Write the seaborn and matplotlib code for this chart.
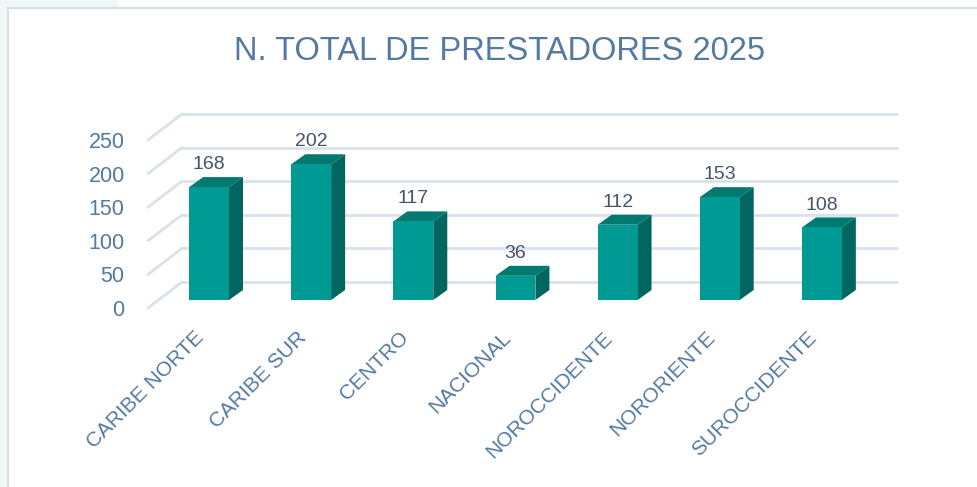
import numpy as np
import pandas as pd
import matplotlib
matplotlib.use('Agg')
import matplotlib.pyplot as plt
import matplotlib.transforms as mtransforms
from matplotlib.patches import Polygon, Rectangle
import seaborn as sns

# data
regiones = ['CARIBE NORTE', 'CARIBE SUR', 'CENTRO', 'NACIONAL',
            'NOROCCIDENTE', 'NORORIENTE', 'SUROCCIDENTE']
prestadores = [168, 202, 117, 36, 112, 153, 108]
y_ticks = [0, 50, 100, 150, 200, 250]

df = pd.DataFrame({'Region': regiones, 'Prestadores': prestadores})

sns.set_style('white')
plt.rcParams['font.family'] = ['Liberation Sans', 'DejaVu Sans']

# colours
c_front = '#009A94'
c_side = '#00665F'
c_top = '#007971'
c_grid = '#D9E1EA'
c_title = '#5479A2'
c_tick = '#5479A2'
c_label = '#44546A'

W, H = 978, 487
fig = plt.figure(figsize=(W / 100, H / 100), dpi=100)
fig.patch.set_facecolor('white')

# light slide background at the top-left corner + chart frame
fig.add_artist(Rectangle((0, 0), 8 / W, 1, transform=fig.transFigure,
                         fc='#EEF8F6', ec='none', zorder=-3))
fig.add_artist(Rectangle((0, 1 - 8 / H), 118 / W, 8 / H, transform=fig.transFigure,
                         fc='#EEF8F6', ec='none', zorder=-3))
fig.add_artist(Rectangle((8 / W, -0.01), 1, 1 - 8 / H + 0.01,
                         transform=fig.transFigure, fc='white',
                         ec='#D6DFE9', lw=1.5, zorder=-2))

# axes = front plane of the bars (pixel layout)
left, right, top, bottom = 158, 873, 132, 300
ax = fig.add_axes([left / W, 1 - bottom / H, (right - left) / W, (bottom - top) / H])
ax.patch.set_alpha(0)
ax.set_xlim(-0.5, len(regiones) - 0.5)
ax.set_ylim(0, 250)

# pixel -> data units for the fake depth
px_x = (len(regiones)) / (right - left)
px_y = 250 / (bottom - top)

# back wall gridlines and side wall diagonals
back_dx, back_dy = 24 * px_x, 18 * px_y
front_dx, front_dy = -10 * px_x, -8 * px_y
x0, x1 = ax.get_xlim()
for v in y_ticks:
    ax.plot([x0 + back_dx, x1 + back_dx], [v + back_dy, v + back_dy],
            color=c_grid, lw=2, zorder=1, clip_on=False)
    ax.plot([x0 + front_dx, x0 + back_dx], [v + front_dy, v + back_dy],
            color=c_grid, lw=2, zorder=1, clip_on=False)

# bars
sns.barplot(data=df, x='Region', y='Prestadores', color=c_front, saturation=1,
            width=0.39, ax=ax, zorder=3, edgecolor='none')

# 3d sides and tops
ddx, ddy = 14 * px_x, 10 * px_y
for p in ax.patches:
    bx, bw, bh = p.get_x(), p.get_width(), p.get_height()
    side = Polygon([(bx + bw, 0), (bx + bw + ddx, ddy), (bx + bw + ddx, bh + ddy), (bx + bw, bh)],
                   closed=True, fc=c_side, ec='none', zorder=2.5, clip_on=False)
    topf = Polygon([(bx, bh), (bx + ddx, bh + ddy), (bx + bw + ddx, bh + ddy), (bx + bw, bh)],
                   closed=True, fc=c_top, ec='none', zorder=2.5, clip_on=False)
    ax.add_patch(side)
    ax.add_patch(topf)

ax.bar_label(ax.containers[0], padding=10, fontsize=14, color=c_label)

for s in ax.spines.values():
    s.set_visible(False)

ax.set_xlabel('')
ax.set_ylabel('')
ax.set_yticks(y_ticks)
ax.tick_params(axis='both', length=0)
ax.tick_params(axis='y', pad=24, labelsize=15.5, labelcolor=c_tick)
ax.tick_params(axis='x', pad=20, labelsize=15, labelcolor=c_tick)
shift = mtransforms.ScaledTranslation(0, -0.08, fig.dpi_scale_trans)
for lab in ax.get_yticklabels():
    lab.set_transform(lab.get_transform() + shift)
xshift = mtransforms.ScaledTranslation(-0.08, -0.07, fig.dpi_scale_trans)
for lab in ax.get_xticklabels():
    lab.set_rotation(45)
    lab.set_ha('right')
    lab.set_va('center')
    lab.set_rotation_mode('anchor')
    lab.set_transform(lab.get_transform() + xshift)

fig.text(500 / W, 1 - 52 / H, 'N. TOTAL DE PRESTADORES 2025', ha='center', va='center',
         fontsize=23.5, color=c_title)

fig.savefig('out.png', dpi=100)
